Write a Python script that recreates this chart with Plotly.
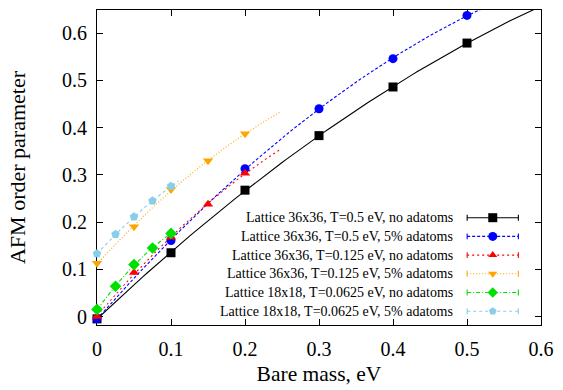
import numpy as np
import plotly.graph_objects as go

# Bare mass (eV) and AFM order parameter for each simulation set
mass_36_hot = [0.0, 0.1, 0.2, 0.3, 0.4, 0.5]
afm_36_hot_clean = [-0.005, 0.135, 0.2675, 0.383, 0.486, 0.579]
afm_36_hot_adat = [-0.005, 0.161, 0.313, 0.440, 0.546, 0.6375]

mass_36_cold = [0.0, 0.05, 0.1, 0.15, 0.2]
afm_36_cold_clean = [0.0, 0.093, 0.168, 0.2375, 0.3035]
afm_36_cold_adat = [0.1125, 0.190, 0.269, 0.330, 0.387]

mass_18 = [0.0, 0.025, 0.05, 0.075, 0.1]
afm_18_clean = [0.015, 0.064, 0.110, 0.145, 0.176]
afm_18_adat = [0.133, 0.174, 0.211, 0.245, 0.276]

labels = [
    "Lattice 36x36, T=0.5 eV, no adatoms",
    "Lattice 36x36, T=0.5 eV, 5% adatoms",
    "Lattice 36x36, T=0.125 eV, no adatoms",
    "Lattice 36x36, T=0.125 eV, 5% adatoms",
    "Lattice 18x18, T=0.0625 eV, no adatoms",
    "Lattice 18x18, T=0.0625 eV, 5% adatoms",
]

FONT = "Liberation Serif, Times New Roman, serif"

series = [
    # x, y, colour, symbol, dash, fit upper limit, key marker size
    (mass_36_hot, afm_36_hot_clean, "#000000", "square", "solid", 0.62, 9),
    (mass_36_hot, afm_36_hot_adat, "#0000ff", "circle", "3px,2px", 0.62, 9),
    (mass_36_cold, afm_36_cold_clean, "#ff0000", "triangle-up", "2px,3px", 0.247, 8),
    (mass_36_cold, afm_36_cold_adat, "#ffa500", "triangle-down", "1px,2px", 0.247, 8),
    (mass_18, afm_18_clean, "#00e000", "diamond", "4px,2px,1px,2px", 0.104, 8),
    (mass_18, afm_18_adat, "#87ceeb", "pentagon", "3px,3px", 0.11, 8),
]

fig = go.Figure()

for xs, ys, col, sym, dash, xmax, ks in series:
    # quadratic fit drawn as a smooth guide curve
    coef = np.polyfit(xs, ys, 2)
    xf = np.linspace(0, xmax, 120)
    fig.add_trace(go.Scatter(
        x=xf, y=np.polyval(coef, xf), mode="lines",
        line=dict(color=col, width=1.1, dash=dash),
        showlegend=False, hoverinfo="skip",
    ))
for xs, ys, col, sym, dash, xmax, ks in series:
    fig.add_trace(go.Scatter(
        x=xs, y=ys, mode="markers",
        marker=dict(color=col, symbol=sym, size=9, line=dict(width=0)),
        showlegend=False, cliponaxis=False,
    ))

# Key block on an overlay axis measured in pixels of the plotting area
L, R, T, B = 97, 548, 9, 329
row_y = [220, 239, 258, 277, 296, 315]
key_x0, key_x1, key_mid, text_right = 473, 525, 499, 461

for i, (xs, ys, col, sym, dash, xmax, ks) in enumerate(series):
    yy = row_y[i]
    fig.add_shape(type="line", xref="x2", yref="y2", x0=key_x0, x1=key_x1, y0=yy, y1=yy,
                  line=dict(color=col, width=1.1, dash=dash))
    for cx in (key_x0, key_x1):
        fig.add_shape(type="line", xref="x2", yref="y2", x0=cx, x1=cx, y0=yy - 3, y1=yy + 3,
                      line=dict(color=col, width=1.1))
    fig.add_trace(go.Scatter(
        x=[key_mid], y=[yy], xaxis="x2", yaxis="y2", mode="markers",
        marker=dict(color=col, symbol=sym, size=ks, line=dict(width=0)),
        showlegend=False, hoverinfo="skip",
    ))
    fig.add_annotation(x=text_right, y=yy, xref="x2", yref="y2", text=labels[i],
                       showarrow=False, xanchor="right", yanchor="middle",
                       font=dict(family=FONT, size=14, color="#000000"))

axis_common = dict(
    showgrid=False, zeroline=False, showline=True, linecolor="#000000", linewidth=1.2,
    mirror="allticks", ticks="inside", ticklen=6, tickwidth=1, tickcolor="#000000",
    tickfont=dict(family=FONT, size=20, color="#000000"), layer="below traces",
)

fig.update_layout(
    width=563, height=390,
    margin=dict(l=L, r=563 - R, t=T, b=390 - B),
    paper_bgcolor="white", plot_bgcolor="white",
    xaxis=dict(range=[0, 0.6], tickvals=[0, 0.1, 0.2, 0.3, 0.4, 0.5, 0.6],
               ticktext=["0", "0.1", "0.2", "0.3", "0.4", "0.5", "0.6"],
               ticklabelstandoff=6,
               title=dict(text="Bare mass, eV", font=dict(family=FONT, size=21.5, color="#000000"),
                          standoff=6),
               **axis_common),
    yaxis=dict(range=[-0.018, 0.649], tickvals=[0, 0.1, 0.2, 0.3, 0.4, 0.5, 0.6],
               ticktext=["0", "0.1", "0.2", "0.3", "0.4", "0.5", "0.6"],
               ticklabelstandoff=5,
               title=dict(text="AFM order parameter", font=dict(family=FONT, size=22, color="#000000"),
                          standoff=30),
               **axis_common),
    xaxis2=dict(overlaying="x", range=[L, R], visible=False, fixedrange=True),
    yaxis2=dict(overlaying="y", range=[B, T], visible=False, fixedrange=True),
    showlegend=False,
)

fig.write_html("out.html")
